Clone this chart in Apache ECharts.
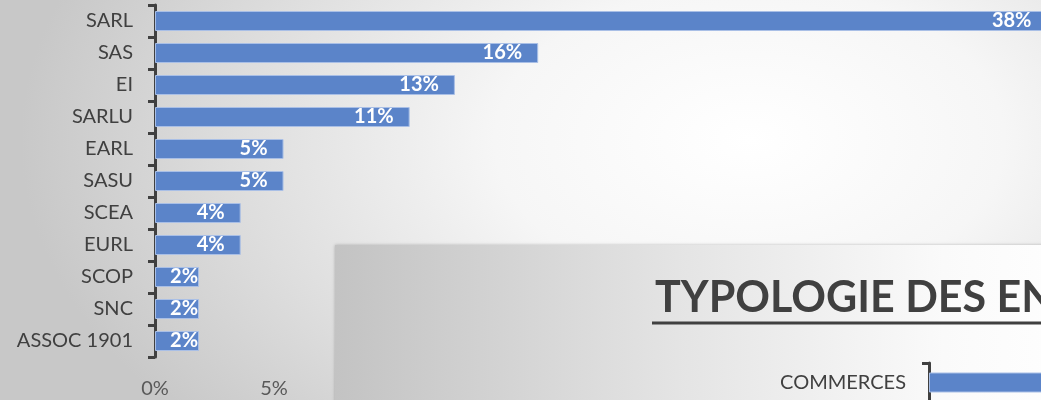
<!DOCTYPE html>
<html>
<head>
<meta charset="utf-8">
<title>Typologie</title>
<script src="https://cdn.jsdelivr.net/npm/echarts@6/dist/echarts.min.js"></script>
<style>
  html, body { margin: 0; padding: 0; }
  body {
    width: 1041px; height: 400px; overflow: hidden;
    background: radial-gradient(ellipse 70% 110% at 72% 35%, #ffffff 0%, #f6f6f6 35%, #dedede 70%, #c8c8c8 100%);
  }
  .barBox { width: 1041px; height: 400px; }
</style>
</head>
<body>
<div class="barBox"></div>
<script>
// forme juridique -> part (%)
const categories = ['SARL', 'SAS', 'EI', 'SARLU', 'EARL', 'SASU', 'SCEA', 'EURL', 'SCOP', 'SNC', 'ASSOC 1901'];
const shares = [37.5, 16.1, 12.6, 10.7, 5.4, 5.4, 3.6, 3.6, 1.85, 1.85, 1.85];

// 2e graphique (en partie hors cadre)
const secteurs = ['COMMERCES'];
const secteurValues = [20];
const chartTitle = 'TYPOLOGIE DES ENTREPRISES';

function createBarBox(){
    let chartDom = document.querySelector('.barBox');
    let myChart = echarts.init(chartDom);
    let option;

    let font = 'Lato';
    let barColor = '#5b84c9';

    let list_data = [];
    shares.forEach(v => {
        let item = { value: v };
        if (v < 3) item['label'] = { distance: 1 };
        list_data.push(item);
    });

    let catAxis = {
        axisLine: { show: true, lineStyle: { color: '#404040', width: 3 } },
        axisTick: { show: true, length: 7, lineStyle: { color: '#404040', width: 3 } }
    };

    option = {
        backgroundColor: 'transparent',
        title: {
            text: chartTitle,
            left: 650,
            top: 272,
            z: 20,
            textStyle: { fontFamily: font, fontWeight: 'bold', fontSize: 43, color: '#404040' }
        },
        graphic: [
            {
                type: 'rect',
                z: 10,
                shape: { x: 335, y: 245, width: 760, height: 200 },
                style: {
                    fill: new echarts.graphic.LinearGradient(0, 0, 1, 0, [
                        { offset: 0, color: '#c3c3c3' },
                        { offset: 0.45, color: '#e4e4e4' },
                        { offset: 0.8, color: '#fafafa' },
                        { offset: 1, color: '#ffffff' }
                    ]),
                    shadowBlur: 3,
                    shadowColor: 'rgba(0,0,0,0.25)'
                }
            },
            {
                type: 'line',
                z: 20,
                shape: { x1: 652, y1: 323, x2: 1060, y2: 323 },
                style: { stroke: '#404040', lineWidth: 3 }
            }
        ],
        grid: [
            { left: 155, top: 5, width: 952, height: 352, outerBoundsMode: 'none', containLabel: false },
            { left: 929, top: 363, width: 952, height: 39, outerBoundsMode: 'none', containLabel: false }
        ],
        xAxis: [
            {
                type: 'value',
                gridIndex: 0,
                min: 0,
                max: 40,
                interval: 5,
                splitLine: { show: false },
                axisLine: { show: false },
                axisTick: { show: false },
                axisLabel: {
                    formatter: '{value}%',
                    margin: 22,
                    fontFamily: font,
                    fontSize: 20,
                    color: '#595959'
                }
            },
            {
                type: 'value',
                gridIndex: 1,
                min: 0,
                max: 40,
                show: false
            }
        ],
        yAxis: [
            Object.assign({
                type: 'category',
                gridIndex: 0,
                data: categories,
                inverse: true,
                axisLabel: { margin: 22, fontFamily: font, fontSize: 20, color: '#404040' }
            }, catAxis),
            Object.assign({
                type: 'category',
                gridIndex: 1,
                data: secteurs,
                inverse: true,
                z: 30,
                axisLabel: { margin: 23, fontFamily: font, fontSize: 20, color: '#404040' }
            }, catAxis)
        ],
        series: [
            {
                type: 'bar',
                xAxisIndex: 0,
                yAxisIndex: 0,
                barWidth: 20,
                data: list_data,
                itemStyle: { color: barColor, borderColor: '#a9bfe6', borderWidth: 1 },
                label: {
                    show: true,
                    position: 'insideRight',
                    distance: 16,
                    color: '#ffffff',
                    fontFamily: font,
                    fontWeight: 'bold',
                    fontSize: 20,
                    formatter: function(p) {
                        return Math.round(p.value) + '%';
                    }
                }
            },
            {
                type: 'bar',
                xAxisIndex: 1,
                yAxisIndex: 1,
                z: 30,
                barWidth: 20,
                data: secteurValues,
                itemStyle: { color: barColor, borderColor: '#a9bfe6', borderWidth: 1 },
                label: { show: false }
            }
        ]
    };

    option && myChart.setOption(option);
}

document.addEventListener('DOMContentLoaded', function() {
    createBarBox();
});
</script>
</body>
</html>
